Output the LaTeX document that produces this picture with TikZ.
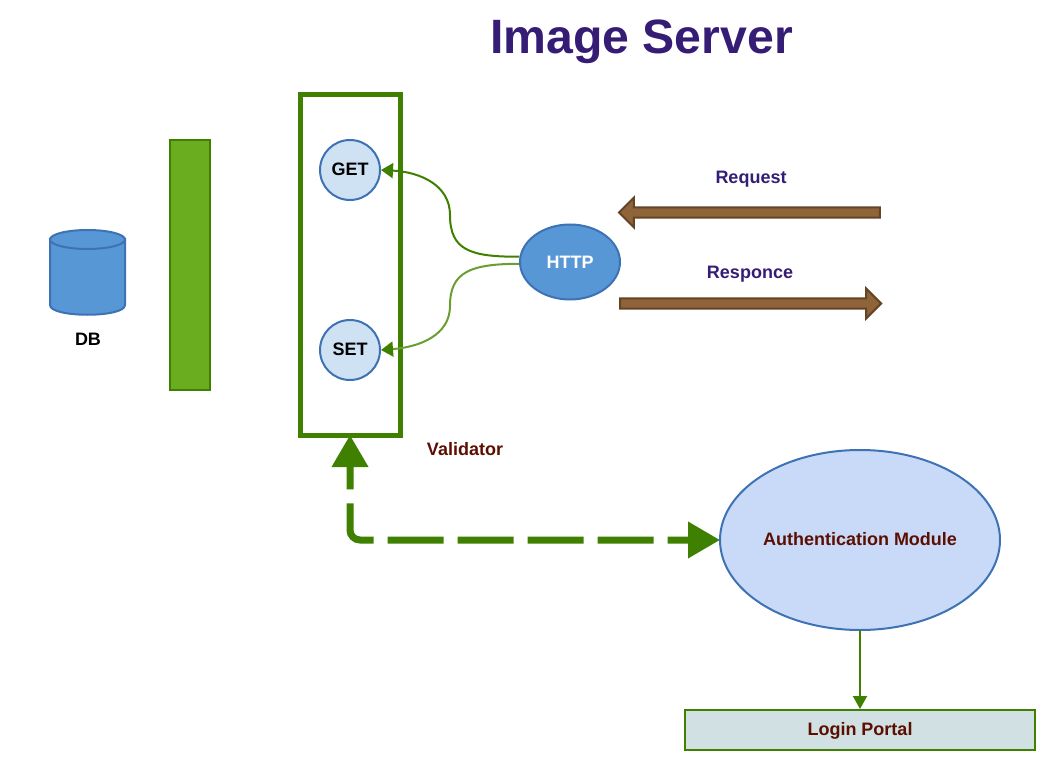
\documentclass[tikz,border=0pt]{standalone}
\usepackage{fontspec}
\setmainfont{Liberation Sans}
\usetikzlibrary{arrows.meta, shapes.geometric, shapes.arrows}
\definecolor{leafgreen}{HTML}{3F8000}
\definecolor{softgreen}{HTML}{6A9E30}
\definecolor{bargreen}{HTML}{6AAE20}
\definecolor{edgeblue}{HTML}{3D72B5}
\definecolor{midblue}{HTML}{5797D5}
\definecolor{paleblue}{HTML}{CFE2F3}
\definecolor{authblue}{HTML}{C9DAF8}
\definecolor{portalgrey}{HTML}{D0E0E3}
\definecolor{brownfill}{HTML}{8F6439}
\definecolor{brownedge}{HTML}{634426}
\definecolor{titleblue}{HTML}{351C75}
\definecolor{darkred}{HTML}{5B0F00}
\tikzset{
    label text/.style = {font = \fontsize{18}{20}\selectfont\bfseries},
    verb node/.style = {circle, draw = edgeblue, fill = paleblue, line width = 2pt, minimum size = 60pt, inner sep = 0pt, label text},
    flow arrow/.style = {single arrow, draw = brownedge, fill = brownfill, line width = 2pt, minimum height = 261pt, minimum width = 30pt, single arrow head extend = 9.5pt, single arrow head indent = 0pt, inner sep = 4pt}
}
\begin{document}
\begin{tikzpicture}[x = 1pt, y = -1pt]
        \useasboundingbox (0,0) rectangle (1055,770);
        \node[label text, text = titleblue, font = \fontsize{48.2}{52}\selectfont\bfseries] (title) at (641.5,41.5) {Image Server};
        % database drum
        \draw[draw = edgeblue, fill = midblue, line width = 2pt] (50,239) -- (50,305) .. controls (50,318) and (125,318) .. (125,305) -- (125,239) -- cycle;
        \node[ellipse, draw = edgeblue, fill = midblue, line width = 2pt, minimum width = 75pt, minimum height = 19pt, inner sep = 0pt] (db) at (87.5,239.5) {};
        \node[label text] (dblabel) at (88,339) {DB};
        \node[draw = leafgreen, fill = bargreen, line width = 2pt, minimum width = 40pt, minimum height = 250pt, inner sep = 0pt] (bar) at (190,265) {};
        \node[draw = leafgreen, line width = 5pt, minimum width = 100pt, minimum height = 340pt, inner sep = 0pt, outer sep = 0pt] (validator) at (350,265) {};
        \node[verb node] (get) at (350,170) {\raisebox{2.5pt}{GET}};
        \node[verb node] (set) at (350,350) {\raisebox{1pt}{SET}};
        \node[ellipse, draw = edgeblue, fill = midblue, line width = 2pt, minimum width = 100pt, minimum height = 75pt, inner sep = 0pt, label text, text = white] (http) at (570,262) {HTTP};
        \coordinate (getbend) at (450,215);
        \coordinate (setbend) at (450,306);
        \draw[draw = leafgreen, line width = 2pt, -{Triangle[length = 12pt, width = 15pt]}] (http.174) .. controls (470,257) and (450,250) .. (getbend) .. controls (450,185) and (420,172) .. (get.east);
        \draw[draw = softgreen, fill = none, line width = 2pt, -{Triangle[length = 12pt, width = 15pt, fill = leafgreen, color = leafgreen]}] (http.182) .. controls (470,264) and (450,272) .. (setbend) .. controls (450,335) and (420,347) .. (set.east);
        \node[flow arrow, shape border rotate = 180] (request) at (752,212.5) {};
        \node[flow arrow] (response) at (748,303.5) {};
        \node[label text, text = titleblue] (requestlabel) at (751,179) {Request};
        \node[label text, text = titleblue] (responselabel) at (750,274) {Responce};
        \node[label text, text = darkred] (validatorlabel) at (465,449) {Validator};
        \node[ellipse, draw = edgeblue, fill = authblue, line width = 2pt, minimum width = 280pt, minimum height = 180pt, inner sep = 0pt, outer sep = 0pt, label text, text = darkred] (auth) at (860,540) {\raisebox{2pt}{Authentication Module}};
        \node[draw = leafgreen, fill = portalgrey, line width = 2pt, minimum width = 350pt, minimum height = 40pt, inner sep = 0pt, label text, text = darkred, text depth = 1.5pt] (portal) at (860,730) {Login Portal};
        \coordinate (corner) at (validator.south |- auth.west);
        \draw[draw = leafgreen, line width = 7pt, rounded corners = 10pt, dash pattern = on 56pt off 14pt, dash phase = 32pt, {Triangle[length = 32pt, width = 35pt]}-{Triangle[length = 32pt, width = 35pt]}] (validator.south) -- (corner) -- (auth.west);
        \draw[draw = leafgreen, line width = 2pt, -{Triangle[length = 13pt, width = 14pt]}] (auth.south) -- (portal.north);
    \end{tikzpicture}
\end{document}
